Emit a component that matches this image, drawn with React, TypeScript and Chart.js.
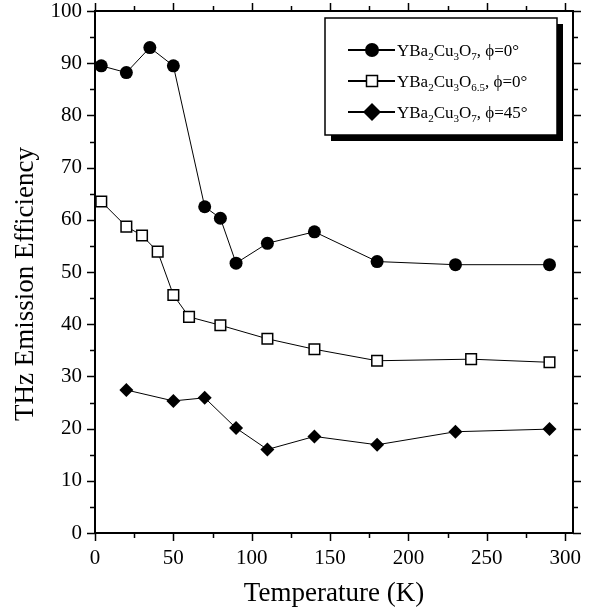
import React, { useEffect, useRef } from 'react';
import { Chart, registerables } from 'chart.js';

Chart.register(...registerables);

// ---- data ----
const circleT = [4, 20, 35, 50, 70, 80, 90, 110, 140, 180, 230, 290];
const circleEff = [89.5, 88.2, 93.0, 89.5, 62.5, 60.3, 51.7, 55.5, 57.7, 52.0, 51.4, 51.4];

const squareT = [4, 20, 30, 40, 50, 60, 80, 110, 140, 180, 240, 290];
const squareEff = [63.5, 58.7, 57.0, 53.9, 45.6, 41.4, 39.8, 37.2, 35.2, 33.0, 33.3, 32.7];

const diamondT = [20, 50, 70, 90, 110, 140, 180, 230, 290];
const diamondEff = [27.4, 25.3, 25.9, 20.1, 16.0, 18.5, 16.9, 19.4, 19.9];

const xTickValues = [0, 50, 100, 150, 200, 250, 300];
const xMinorValues = [25, 75, 125, 175, 225, 275];
const yTickValues = [0, 10, 20, 30, 40, 50, 60, 70, 80, 90, 100];
const yMinorValues = [5, 15, 25, 35, 45, 55, 65, 75, 85, 95];

const xTitle = 'Temperature (K)';
const yTitle = 'THz Emission Efficiency';

// legend entries as text segments: [text, isSubscript]
const legendEntries: Array<Array<[string, boolean]>> = [
  [['YBa', false], ['2', true], ['Cu', false], ['3', true], ['O', false], ['7', true], [', \u03D5=0\u00B0', false]],
  [['YBa', false], ['2', true], ['Cu', false], ['3', true], ['O', false], ['6.5', true], [', \u03D5=0\u00B0', false]],
  [['YBa', false], ['2', true], ['Cu', false], ['3', true], ['O', false], ['7', true], [', \u03D5=45\u00B0', false]],
];
const legendMarkers = ['circle', 'rect', 'rectRot'];

const SERIF = '"Liberation Serif", "Times New Roman", Times, serif';

function toPoints(xs: number[], ys: number[]) {
  return xs.map((x, i) => ({ x, y: ys[i] }));
}

const framePlugin = {
  id: 'frameTicks',
  afterDraw(chart: any) {
    const { ctx, chartArea } = chart;
    const xs = chart.scales.x;
    const ys = chart.scales.y;
    const { left, right, top, bottom } = chartArea;
    ctx.save();
    ctx.strokeStyle = '#000';
    ctx.lineWidth = 2;
    ctx.strokeRect(left, top, right - left, bottom - top);
    ctx.lineWidth = 1.5;
    ctx.beginPath();
    const major = 8;
    const minor = 5;
    const xt = (v: number, len: number) => {
      const p = Math.round(xs.getPixelForValue(v)) + 0.5;
      ctx.moveTo(p, bottom);
      ctx.lineTo(p, bottom + len);
      ctx.moveTo(p, top);
      ctx.lineTo(p, top - len);
    };
    const yt = (v: number, len: number) => {
      const p = Math.round(ys.getPixelForValue(v)) + 0.5;
      ctx.moveTo(left, p);
      ctx.lineTo(left - len, p);
      ctx.moveTo(right, p);
      ctx.lineTo(right + len, p);
    };
    xTickValues.forEach((v) => xt(v, major));
    xMinorValues.forEach((v) => xt(v, minor));
    yTickValues.forEach((v) => yt(v, major));
    yMinorValues.forEach((v) => yt(v, minor));
    ctx.stroke();

    // axis titles
    ctx.fillStyle = '#000';
    ctx.font = `27px ${SERIF}`;
    ctx.textAlign = 'center';
    ctx.textBaseline = 'alphabetic';
    ctx.fillText(xTitle, (left + right) / 2, 601);
    ctx.save();
    ctx.translate(33, 284);
    ctx.rotate(-Math.PI / 2);
    ctx.fillText(yTitle, 0, 0);
    ctx.restore();

    // legend box
    const bx = 325, by = 18, bw = 232, bh = 117, sh = 6;
    ctx.fillStyle = '#000';
    ctx.fillRect(bx + sh, by + sh, bw, bh);
    ctx.fillStyle = '#fff';
    ctx.fillRect(bx, by, bw, bh);
    ctx.lineWidth = 1.5;
    ctx.strokeStyle = '#000';
    ctx.strokeRect(bx, by, bw, bh);

    const rowsY = [50, 81, 112];
    legendEntries.forEach((segs, i) => {
      const cy = rowsY[i];
      ctx.lineWidth = 2;
      ctx.strokeStyle = '#000';
      ctx.beginPath();
      ctx.moveTo(348, cy);
      ctx.lineTo(395, cy);
      ctx.stroke();
      const mx = 372;
      const kind = legendMarkers[i];
      ctx.beginPath();
      if (kind === 'circle') {
        ctx.arc(mx, cy, 7, 0, Math.PI * 2);
        ctx.fillStyle = '#000';
        ctx.fill();
      } else if (kind === 'rect') {
        ctx.fillStyle = '#fff';
        ctx.rect(mx - 5.5, cy - 5.5, 11, 11);
        ctx.fill();
        ctx.lineWidth = 1.5;
        ctx.stroke();
      } else {
        const r = 9;
        ctx.moveTo(mx - r, cy);
        ctx.lineTo(mx, cy - r);
        ctx.lineTo(mx + r, cy);
        ctx.lineTo(mx, cy + r);
        ctx.closePath();
        ctx.fillStyle = '#000';
        ctx.fill();
      }
      // text
      let tx = 397;
      const base = cy + 6;
      ctx.fillStyle = '#000';
      ctx.textAlign = 'left';
      ctx.textBaseline = 'alphabetic';
      segs.forEach(([t, sub]) => {
        ctx.font = sub ? `11px ${SERIF}` : `17px ${SERIF}`;
        ctx.fillText(t, tx, sub ? base + 4 : base);
        tx += ctx.measureText(t).width;
      });
    });
    ctx.restore();
  },
};

export default function App() {
  const ref = useRef<HTMLCanvasElement | null>(null);
  useEffect(() => {
    document.body.style.margin = '0';
    const canvas = ref.current;
    if (!canvas) return;
    const line = { borderColor: '#000', borderWidth: 1, showLine: true, tension: 0 };
    const chart = new Chart(canvas, {
      type: 'scatter',
      data: {
        datasets: [
          {
            ...line,
            label: 'YBa2Cu3O7, phi=0',
            data: toPoints(circleT, circleEff),
            pointStyle: 'circle',
            pointRadius: 6.5,
            pointBackgroundColor: '#000',
            pointBorderColor: '#000',
            pointBorderWidth: 0,
          },
          {
            ...line,
            label: 'YBa2Cu3O6.5, phi=0',
            data: toPoints(squareT, squareEff),
            pointStyle: 'rect',
            pointRadius: 7.5,
            pointBackgroundColor: '#fff',
            pointBorderColor: '#000',
            pointBorderWidth: 1.5,
          },
          {
            ...line,
            label: 'YBa2Cu3O7, phi=45',
            data: toPoints(diamondT, diamondEff),
            pointStyle: 'rectRot',
            pointRadius: 7,
            pointBackgroundColor: '#000',
            pointBorderColor: '#000',
            pointBorderWidth: 0,
          },
        ],
      },
      options: {
        responsive: false,
        animation: false,
        devicePixelRatio: 1,
        layout: { padding: { top: 11, right: 25, left: 0, bottom: 0 } },
        plugins: { legend: { display: false }, tooltip: { enabled: false } },
        scales: {
          x: {
            type: 'linear',
            min: 0,
            max: 305,
            afterFit: (s: any) => { s.height = 81; s.paddingLeft = 0; s.paddingRight = 0; },
            afterBuildTicks: (s: any) => { s.ticks = xTickValues.map((v) => ({ value: v })); },
            grid: { display: false, drawTicks: false },
            border: { display: false },
            ticks: {
              color: '#000',
              font: { family: SERIF, size: 21 },
              padding: 13,
              maxRotation: 0,
              autoSkip: false,
            },
          },
          y: {
            type: 'linear',
            min: 0,
            max: 100,
            afterFit: (s: any) => { s.width = 95; s.paddingTop = 0; s.paddingBottom = 0; },
            afterBuildTicks: (s: any) => { s.ticks = yTickValues.map((v) => ({ value: v })); },
            grid: { display: false, drawTicks: false },
            border: { display: false },
            ticks: {
              color: '#000',
              font: { family: SERIF, size: 21 },
              padding: 13,
              autoSkip: false,
            },
          },
        },
      },
      plugins: [framePlugin],
    } as any);
    return () => chart.destroy();
  }, []);
  return (
    <div style={{ width: 598, height: 614, background: '#fff' }}>
      <canvas ref={ref} width={598} height={614} style={{ display: 'block' }} />
    </div>
  );
}
